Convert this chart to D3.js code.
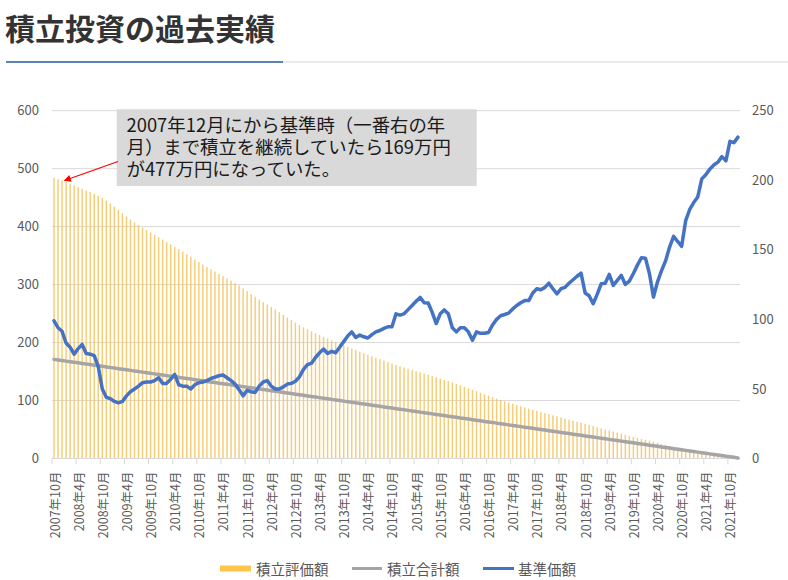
<!DOCTYPE html>
<html><head><meta charset="utf-8">
<script src="https://cdn.jsdelivr.net/npm/d3@7"></script>
<style>
html,body{margin:0;padding:0;background:#fff;}
svg{display:block;font-family:"Noto Sans CJK JP","Noto Sans",sans-serif;}
</style>
</head><body>
<svg id="chart" width="788" height="580"></svg>
<script>
// 積立評価額 (万円), one bar per month 2007年10月 .. 2021年12月
const evalValues = [
484.2,481.9,479.4,476.9,474.1,471.2,468.2,465.2,462.4,459.4,
456.3,453.2,449.7,445.0,439.8,434.4,428.8,423.0,417.4,412.2,
407.4,402.8,398.4,394.1,389.9,385.7,381.6,377.6,373.3,369.1,
365.0,361.2,356.8,352.4,348.0,343.3,339.0,334.7,330.5,326.4,
322.4,318.4,314.6,310.7,306.7,302.6,298.3,293.6,288.5,283.8,
279.0,274.1,269.7,265.5,261.3,256.9,252.3,247.6,243.2,238.8,
234.6,230.4,226.5,222.9,219.4,216.1,212.9,209.8,206.9,203.8,
200.8,197.8,194.9,192.2,189.5,187.0,184.4,181.7,179.1,176.4,
173.8,171.3,168.8,166.3,163.9,161.4,159.2,157.0,154.8,152.6,
150.5,148.5,146.5,144.4,142.3,140.1,137.8,135.5,133.4,131.2,
128.7,126.2,123.7,121.2,118.7,116.0,113.4,110.9,108.3,105.8,
103.4,101.0,98.8,96.6,94.4,92.2,90.1,88.0,86.0,84.0,
82.0,80.1,78.2,76.4,74.5,72.6,70.7,68.8,66.9,65.1,
63.3,61.5,59.8,57.8,55.9,53.8,51.8,50.0,48.2,46.4,
44.6,42.7,41.0,39.1,37.3,35.6,33.9,32.3,30.7,29.0,
27.0,25.2,23.5,21.8,20.3,18.9,17.4,15.9,14.5,13.2,
12.0,10.8,9.6,8.5,7.4,6.3,5.2,4.1,3.0,2.0,
1.0
];
// 積立合計額 (万円)
const totalValues = [
171,170,169,168,167,166,165,164,163,162,
161,160,159,158,157,156,155,154,153,152,
151,150,149,148,147,146,145,144,143,142,
141,140,139,138,137,136,135,134,133,132,
131,130,129,128,127,126,125,124,123,122,
121,120,119,118,117,116,115,114,113,112,
111,110,109,108,107,106,105,104,103,102,
101,100,99,98,97,96,95,94,93,92,
91,90,89,88,87,86,85,84,83,82,
81,80,79,78,77,76,75,74,73,72,
71,70,69,68,67,66,65,64,63,62,
61,60,59,58,57,56,55,54,53,52,
51,50,49,48,47,46,45,44,43,42,
41,40,39,38,37,36,35,34,33,32,
31,30,29,28,27,26,25,24,23,22,
21,20,19,18,17,16,15,14,13,12,
11,10,9,8,7,6,5,4,3,2,
1
];
// 基準価額 (right axis)
const navValues = [
99,94,91.5,83,80,75,79,82,75.5,75,
74,66,50,44,43,41,40,41,45,48,
50,52,54.5,55,55,56,58,54,54,57,
60.5,53,52,52,50,53,54.5,55,56,57.5,
58.5,59.5,60,58,56,53.5,49.5,45,49,48,
47.5,52,55,56,52,50,50,51.5,53.5,54,
55.5,58.7,64,67.5,68.5,72.6,76,78.7,75.5,77,
76,80,84,88,91,87,88.7,87.5,86.6,89,
91,92,93.5,94.7,94.7,104,103,104,107,110,
113,115.8,112,111.8,105,97,104,106.8,104,94,
91,94,94,91,85,91,90,90,90.6,96,
100,102.6,103.5,104.5,107.5,110,112,113.5,113.5,119,
122,121.3,123,126,122,118.4,122,123,126,128.5,
131,133.2,119,117,111.2,118,125.6,126,132.3,124.4,
128,131.6,125.1,127.5,133,139,144.3,144,132.8,116,
127,135,142,152,159.7,156,152.5,171,179,184,
188,201,204,208,211,213,217,214,228,227,
231
];
const tickLabels = [
"2007年10月","2008年4月","2008年10月","2009年4月","2009年10月","2010年4月","2010年10月",
"2011年4月","2011年10月","2012年4月","2012年10月","2013年4月","2013年10月","2014年4月",
"2014年10月","2015年4月","2015年10月","2016年4月","2016年10月","2017年4月","2017年10月",
"2018年4月","2018年10月","2019年4月","2019年10月","2020年4月","2020年10月","2021年4月","2021年10月"
];
const leftTicks = [0,100,200,300,400,500,600];
const rightTicks = [0,50,100,150,200,250];
const seriesNames = ["積立評価額","積立合計額","基準価額"];
const titleText = "積立投資の過去実績";
const noteLines = ["2007年12月にから基準時（一番右の年","月）まで積立を継続していたら169万円","が477万円になっていた。"];

// month categories 2007年10月 ..
const categories = evalValues.map((_, i) => {
  const m = 9 + i;
  return `${2007 + Math.floor(m / 12)}年${(m % 12) + 1}月`;
});

const svg = d3.select("#chart");
const X0 = 52, X1 = 740, Y0 = 458.5, Y1 = 110.7;
const x = d3.scaleBand().domain(categories).range([X0, X1]).paddingInner(0.64).paddingOuter(0.32);
const yL = d3.scaleLinear().domain([0, 600]).range([Y0, Y1]);
const yR = d3.scaleLinear().domain([0, 250]).range([Y0, Y1]);
const cx = c => x(c) + x.bandwidth() / 2;
const axisColor = "#595959";

// title
svg.append("text").attr("x", 5).attr("y", 39.5).attr("font-size", 30).attr("font-weight", 700)
  .attr("fill", "#333333").text(titleText);
svg.append("rect").attr("x", 283).attr("y", 61.2).attr("width", 505).attr("height", 1.5).attr("fill", "#e3e3e3");
svg.append("rect").attr("x", 6).attr("y", 61).attr("width", 277).attr("height", 2).attr("fill", "#5b84b6");

// gridlines
svg.append("g").selectAll("line").data(leftTicks.filter(d => d > 0)).join("line")
  .attr("x1", X0).attr("x2", X1).attr("y1", d => yL(d)).attr("y2", d => yL(d))
  .attr("stroke", "#d9d9d9").attr("stroke-width", 1);

// left axis labels
const gL = svg.append("g").attr("transform", `translate(${X0 - 13},0)`)
  .call(d3.axisLeft(yL).tickValues(leftTicks).tickSize(0).tickPadding(0));
gL.select(".domain").remove();
gL.selectAll("text").attr("font-size", 13).attr("fill", axisColor)
  .attr("font-family", '"Noto Sans CJK JP","Noto Sans",sans-serif');

// right axis labels
const gR = svg.append("g").attr("transform", `translate(${X1 + 12},0)`)
  .call(d3.axisRight(yR).tickValues(rightTicks).tickSize(0).tickPadding(0));
gR.select(".domain").remove();
gR.selectAll("text").attr("font-size", 13).attr("fill", axisColor)
  .attr("font-family", '"Noto Sans CJK JP","Noto Sans",sans-serif');

// bars
svg.append("g").selectAll("rect").data(evalValues).join("rect")
  .attr("x", (d, i) => x(categories[i]))
  .attr("width", x.bandwidth())
  .attr("y", d => yL(d))
  .attr("height", d => yL(0) - yL(d))
  .attr("fill", "#f6c35e").attr("fill-opacity", 0.85);

// bottom axis line & ticks
svg.append("line").attr("x1", X0).attr("x2", X1).attr("y1", Y0).attr("y2", Y0)
  .attr("stroke", "#d9d9d9").attr("stroke-width", 1);
const step = x.step();
svg.append("g").selectAll("line").data(tickLabels).join("line")
  .attr("x1", d => x(d) - (step - x.bandwidth()) / 2)
  .attr("x2", d => x(d) - (step - x.bandwidth()) / 2)
  .attr("y1", Y0).attr("y2", Y0 + 5.5)
  .attr("stroke", "#d9d9d9").attr("stroke-width", 1);
svg.append("g").selectAll("text").data(tickLabels).join("text")
  .attr("transform", d => `translate(${cx(d)},471.5) rotate(-90)`)
  .attr("text-anchor", "end").attr("dominant-baseline", "central")
  .attr("font-size", 12.5).attr("fill", axisColor).text(d => d);

// lines
const lineL = d3.line().x((d, i) => cx(categories[i])).y(d => yL(d));
const lineR = d3.line().x((d, i) => cx(categories[i])).y(d => yR(d));
svg.append("path").attr("d", lineL(totalValues)).attr("fill", "none")
  .attr("stroke", "#a5a5a5").attr("stroke-width", 3.5).attr("stroke-linejoin", "round").attr("stroke-linecap", "round");
svg.append("path").attr("d", lineR(navValues)).attr("fill", "none")
  .attr("stroke", "#4472c4").attr("stroke-width", 3.5).attr("stroke-linejoin", "round").attr("stroke-linecap", "round");

// annotation
svg.append("rect").attr("x", 116.7).attr("y", 109.3).attr("width", 360).attr("height", 76.7).attr("fill", "#d9d9d9");
const note = svg.append("text").attr("font-size", 18.4).attr("fill", "#1a1a1a");
note.selectAll("tspan").data(noteLines).join("tspan")
  .attr("x", 126.5).attr("y", (d, i) => 131.6 + i * 22.4).text(d => d);
const defs = svg.append("defs");
defs.append("marker").attr("id", "arr").attr("viewBox", "0 0 10 10").attr("refX", 9).attr("refY", 5)
  .attr("markerWidth", 8).attr("markerHeight", 7).attr("markerUnits", "userSpaceOnUse").attr("orient", "auto")
  .append("path").attr("d", "M0,0L10,5L0,10z").attr("fill", "#ff0000");
svg.append("line").attr("x1", 118).attr("y1", 161.5).attr("x2", 64.5).attr("y2", 180.5)
  .attr("stroke", "#ff0000").attr("stroke-width", 1.2).attr("marker-end", "url(#arr)");

// legend
const lg = svg.append("g");
lg.append("rect").attr("x", 220).attr("y", 565.5).attr("width", 31).attr("height", 6).attr("fill", "#ffc54a");
lg.append("line").attr("x1", 352).attr("x2", 382).attr("y1", 568.5).attr("y2", 568.5).attr("stroke", "#a5a5a5").attr("stroke-width", 3);
lg.append("line").attr("x1", 483).attr("x2", 514).attr("y1", 568.5).attr("y2", 568.5).attr("stroke", "#4472c4").attr("stroke-width", 3);
lg.selectAll("text").data(seriesNames).join("text")
  .attr("x", (d, i) => [256, 387, 518][i]).attr("y", 568.5)
  .attr("dominant-baseline", "central").attr("font-size", 14.5).attr("fill", axisColor).text(d => d);
</script>
</body></html>
